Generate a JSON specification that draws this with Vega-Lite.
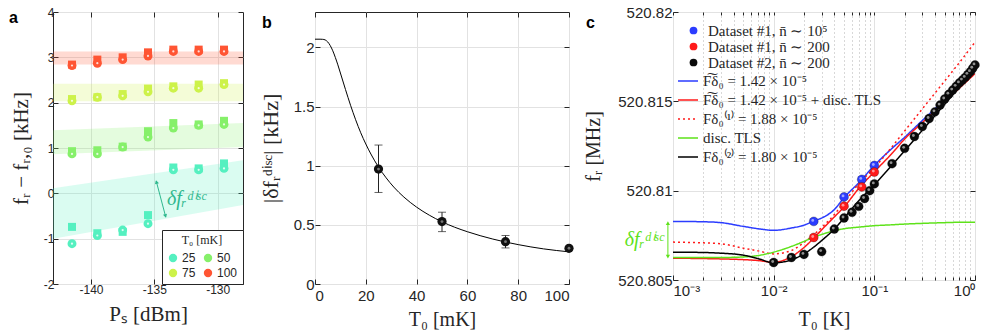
{
  "$schema": "https://vega.github.io/schema/vega-lite/v6.json",
  "autosize": {"type": "none"},
  "padding": {"left": 53, "top": 12, "right": 944, "bottom": 324},
  "bounds": "flush",
  "spacing": 0,
  "background": "white",
  "resolve": {
    "scale": {"color": "independent", "fill": "independent", "stroke": "independent", "strokeDash": "independent", "shape": "independent"},
    "legend": {"color": "independent", "fill": "independent", "stroke": "independent", "strokeDash": "independent", "shape": "independent"}
  },
  "config": {
    "view": {"stroke": "#262626", "strokeWidth": 1},
    "axis": {"domain": false, "tickColor": "#262626", "tickSize": -5, "labelFont": "Liberation Sans", "labelColor": "#262626", "titleFont": "Liberation Serif", "titleFontWeight": "normal", "titleColor": "#262626", "gridColor": "#e2e2e2", "labelFontSize": 15, "titleFontSize": 20, "labelPadding": 4}
  },
  "datasets": {
    "bands": [
      {"P": -143, "T": "100", "lo": 2.84, "hi": 3.13}, {"P": -128, "T": "100", "lo": 2.84, "hi": 3.13},
      {"P": -143, "T": "75", "lo": 2.03, "hi": 2.42}, {"P": -128, "T": "75", "lo": 2.03, "hi": 2.42},
      {"P": -143, "T": "50", "lo": 0.86, "hi": 1.39}, {"P": -128, "T": "50", "lo": 1.02, "hi": 1.55},
      {"P": -143, "T": "25", "lo": -1.0, "hi": 0.11}, {"P": -128, "T": "25", "lo": -0.26, "hi": 0.73}
    ],
    "pa": [
      {"P": -141.5, "T": "25", "kind": "square", "y": -0.74}, {"P": -139.5, "T": "25", "kind": "square", "y": -0.88}, {"P": -137.5, "T": "25", "kind": "square", "y": -0.85}, {"P": -135.5, "T": "25", "kind": "square", "y": -0.48}, {"P": -133.5, "T": "25", "kind": "square", "y": 0.57}, {"P": -131.5, "T": "25", "kind": "square", "y": 0.55}, {"P": -129.5, "T": "25", "kind": "square", "y": 0.66},
      {"P": -141.5, "T": "50", "kind": "square", "y": 0.93}, {"P": -139.5, "T": "50", "kind": "square", "y": 0.95}, {"P": -137.5, "T": "50", "kind": "square", "y": 1.03}, {"P": -135.5, "T": "50", "kind": "square", "y": 1.37}, {"P": -133.5, "T": "50", "kind": "square", "y": 1.55}, {"P": -131.5, "T": "50", "kind": "square", "y": 1.52}, {"P": -129.5, "T": "50", "kind": "square", "y": 1.6},
      {"P": -141.5, "T": "75", "kind": "square", "y": 2.08}, {"P": -139.5, "T": "75", "kind": "square", "y": 2.12}, {"P": -137.5, "T": "75", "kind": "square", "y": 2.19}, {"P": -135.5, "T": "75", "kind": "square", "y": 2.31}, {"P": -133.5, "T": "75", "kind": "square", "y": 2.36}, {"P": -131.5, "T": "75", "kind": "square", "y": 2.4}, {"P": -129.5, "T": "75", "kind": "square", "y": 2.43},
      {"P": -141.5, "T": "100", "kind": "square", "y": 2.84}, {"P": -139.5, "T": "100", "kind": "square", "y": 2.95}, {"P": -137.5, "T": "100", "kind": "square", "y": 3.0}, {"P": -135.5, "T": "100", "kind": "square", "y": 3.11}, {"P": -133.5, "T": "100", "kind": "square", "y": 3.17}, {"P": -131.5, "T": "100", "kind": "square", "y": 3.17}, {"P": -129.5, "T": "100", "kind": "square", "y": 3.17},
      {"P": -141.5, "T": "25", "kind": "circle", "y": -1.11}, {"P": -139.5, "T": "25", "kind": "circle", "y": -0.93}, {"P": -137.5, "T": "25", "kind": "circle", "y": -0.81}, {"P": -135.5, "T": "25", "kind": "circle", "y": -0.67}, {"P": -133.5, "T": "25", "kind": "circle", "y": 0.52}, {"P": -131.5, "T": "25", "kind": "circle", "y": 0.52}, {"P": -129.5, "T": "25", "kind": "circle", "y": 0.55},
      {"P": -141.5, "T": "50", "kind": "circle", "y": 0.87}, {"P": -139.5, "T": "50", "kind": "circle", "y": 0.87}, {"P": -137.5, "T": "50", "kind": "circle", "y": 1.02}, {"P": -135.5, "T": "50", "kind": "circle", "y": 1.24}, {"P": -133.5, "T": "50", "kind": "circle", "y": 1.44}, {"P": -131.5, "T": "50", "kind": "circle", "y": 1.5}, {"P": -129.5, "T": "50", "kind": "circle", "y": 1.52},
      {"P": -141.5, "T": "75", "kind": "circle", "y": 2.04}, {"P": -139.5, "T": "75", "kind": "circle", "y": 2.12}, {"P": -137.5, "T": "75", "kind": "circle", "y": 2.15}, {"P": -135.5, "T": "75", "kind": "circle", "y": 2.24}, {"P": -133.5, "T": "75", "kind": "circle", "y": 2.32}, {"P": -131.5, "T": "75", "kind": "circle", "y": 2.32}, {"P": -129.5, "T": "75", "kind": "circle", "y": 2.4},
      {"P": -141.5, "T": "100", "kind": "circle", "y": 2.82}, {"P": -139.5, "T": "100", "kind": "circle", "y": 2.87}, {"P": -137.5, "T": "100", "kind": "circle", "y": 2.95}, {"P": -135.5, "T": "100", "kind": "circle", "y": 3.03}, {"P": -133.5, "T": "100", "kind": "circle", "y": 3.13}, {"P": -131.5, "T": "100", "kind": "circle", "y": 3.13}, {"P": -129.5, "T": "100", "kind": "circle", "y": 3.13}
    ],
    "bcurve": [
      {"T": 0, "v": 2.07}, {"T": 2, "v": 2.07}, {"T": 3, "v": 2.069}, {"T": 4, "v": 2.064}, {"T": 5, "v": 2.047}, {"T": 6, "v": 2.016}, {"T": 7, "v": 1.972}, {"T": 8, "v": 1.916}, {"T": 9, "v": 1.853}, {"T": 10, "v": 1.784}, {"T": 12, "v": 1.645}, {"T": 14, "v": 1.511}, {"T": 16, "v": 1.389}, {"T": 18, "v": 1.279}, {"T": 20, "v": 1.184}, {"T": 22, "v": 1.099}, {"T": 25, "v": 0.989}, {"T": 28, "v": 0.898}, {"T": 31, "v": 0.82}, {"T": 35, "v": 0.735}, {"T": 40, "v": 0.65}, {"T": 45, "v": 0.582}, {"T": 50, "v": 0.526}, {"T": 55, "v": 0.48}, {"T": 60, "v": 0.442}, {"T": 70, "v": 0.38}, {"T": 80, "v": 0.333}, {"T": 90, "v": 0.297}, {"T": 100, "v": 0.272}
    ],
    "bpts": [
      {"T": 25, "v": 0.972, "lo": 0.774, "hi": 1.175},
      {"T": 50, "v": 0.528, "lo": 0.443, "hi": 0.607},
      {"T": 75, "v": 0.358, "lo": 0.305, "hi": 0.41},
      {"T": 100, "v": 0.302, "lo": 0.29, "hi": 0.314}
    ],
    "ccurves": [
      {"T": 0.001, "c": "A", "f": 520.80828}, {"T": 0.002, "c": "A", "f": 520.80826}, {"T": 0.003, "c": "A", "f": 520.80821}, {"T": 0.005, "c": "A", "f": 520.808}, {"T": 0.007, "c": "A", "f": 520.80787}, {"T": 0.01, "c": "A", "f": 520.80778}, {"T": 0.015, "c": "A", "f": 520.80791}, {"T": 0.02, "c": "A", "f": 520.80807}, {"T": 0.025, "c": "A", "f": 520.8083}, {"T": 0.03, "c": "A", "f": 520.80847}, {"T": 0.04, "c": "A", "f": 520.80894}, {"T": 0.05, "c": "A", "f": 520.80961}, {"T": 0.07, "c": "A", "f": 520.81044}, {"T": 0.1, "c": "A", "f": 520.81141}, {"T": 0.15, "c": "A", "f": 520.81237}, {"T": 0.2, "c": "A", "f": 520.81299}, {"T": 0.3, "c": "A", "f": 520.81393}, {"T": 0.5, "c": "A", "f": 520.81509}, {"T": 0.7, "c": "A", "f": 520.81586}, {"T": 1.0, "c": "A", "f": 520.8167},
      {"T": 0.001, "c": "B", "f": 520.80622}, {"T": 0.002, "c": "B", "f": 520.8062}, {"T": 0.003, "c": "B", "f": 520.80618}, {"T": 0.005, "c": "B", "f": 520.80614}, {"T": 0.007, "c": "B", "f": 520.80609}, {"T": 0.01, "c": "B", "f": 520.80599}, {"T": 0.015, "c": "B", "f": 520.80631}, {"T": 0.02, "c": "B", "f": 520.80682}, {"T": 0.025, "c": "B", "f": 520.80734}, {"T": 0.03, "c": "B", "f": 520.80781}, {"T": 0.04, "c": "B", "f": 520.80853}, {"T": 0.05, "c": "B", "f": 520.80909}, {"T": 0.07, "c": "B", "f": 520.81012}, {"T": 0.1, "c": "B", "f": 520.81106}, {"T": 0.15, "c": "B", "f": 520.81209}, {"T": 0.2, "c": "B", "f": 520.81289}, {"T": 0.3, "c": "B", "f": 520.81381}, {"T": 0.5, "c": "B", "f": 520.81498}, {"T": 0.7, "c": "B", "f": 520.81574}, {"T": 1.0, "c": "B", "f": 520.81655},
      {"T": 0.001, "c": "C", "f": 520.80712}, {"T": 0.002, "c": "C", "f": 520.80708}, {"T": 0.003, "c": "C", "f": 520.80703}, {"T": 0.005, "c": "C", "f": 520.80678}, {"T": 0.007, "c": "C", "f": 520.80663}, {"T": 0.01, "c": "C", "f": 520.80646}, {"T": 0.015, "c": "C", "f": 520.80665}, {"T": 0.02, "c": "C", "f": 520.8071}, {"T": 0.025, "c": "C", "f": 520.80753}, {"T": 0.03, "c": "C", "f": 520.80794}, {"T": 0.04, "c": "C", "f": 520.80866}, {"T": 0.05, "c": "C", "f": 520.80935}, {"T": 0.07, "c": "C", "f": 520.81038}, {"T": 0.1, "c": "C", "f": 520.81128}, {"T": 0.15, "c": "C", "f": 520.81246}, {"T": 0.2, "c": "C", "f": 520.81334}, {"T": 0.3, "c": "C", "f": 520.81458}, {"T": 0.5, "c": "C", "f": 520.81614}, {"T": 0.7, "c": "C", "f": 520.81717}, {"T": 1.0, "c": "C", "f": 520.81831},
      {"T": 0.001, "c": "D", "f": 520.80626}, {"T": 0.002, "c": "D", "f": 520.80626}, {"T": 0.003, "c": "D", "f": 520.80626}, {"T": 0.005, "c": "D", "f": 520.80629}, {"T": 0.007, "c": "D", "f": 520.80637}, {"T": 0.01, "c": "D", "f": 520.80656}, {"T": 0.015, "c": "D", "f": 520.80688}, {"T": 0.02, "c": "D", "f": 520.80716}, {"T": 0.025, "c": "D", "f": 520.8074}, {"T": 0.03, "c": "D", "f": 520.80755}, {"T": 0.04, "c": "D", "f": 520.80776}, {"T": 0.05, "c": "D", "f": 520.80787}, {"T": 0.07, "c": "D", "f": 520.80796}, {"T": 0.1, "c": "D", "f": 520.80804}, {"T": 0.15, "c": "D", "f": 520.80809}, {"T": 0.2, "c": "D", "f": 520.80813}, {"T": 0.3, "c": "D", "f": 520.80817}, {"T": 0.5, "c": "D", "f": 520.80821}, {"T": 0.7, "c": "D", "f": 520.80823}, {"T": 1.0, "c": "D", "f": 520.80823},
      {"T": 0.001, "c": "E", "f": 520.80656}, {"T": 0.002, "c": "E", "f": 520.80654}, {"T": 0.003, "c": "E", "f": 520.8065}, {"T": 0.005, "c": "E", "f": 520.80639}, {"T": 0.007, "c": "E", "f": 520.8062}, {"T": 0.01, "c": "E", "f": 520.80596}, {"T": 0.015, "c": "E", "f": 520.80613}, {"T": 0.02, "c": "E", "f": 520.80646}, {"T": 0.025, "c": "E", "f": 520.80684}, {"T": 0.03, "c": "E", "f": 520.80721}, {"T": 0.04, "c": "E", "f": 520.80785}, {"T": 0.05, "c": "E", "f": 520.80847}, {"T": 0.07, "c": "E", "f": 520.80943}, {"T": 0.1, "c": "E", "f": 520.81033}, {"T": 0.15, "c": "E", "f": 520.81143}, {"T": 0.2, "c": "E", "f": 520.81224}, {"T": 0.3, "c": "E", "f": 520.81338}, {"T": 0.5, "c": "E", "f": 520.81484}, {"T": 0.7, "c": "E", "f": 520.8158}, {"T": 1.0, "c": "E", "f": 520.81681}
    ],
    "cpts": [
      {"T": 0.025, "d": "Dataset #1, n̄ ∼ 10⁵", "f": 520.80828}, {"T": 0.05, "d": "Dataset #1, n̄ ∼ 10⁵", "f": 520.80965}, {"T": 0.075, "d": "Dataset #1, n̄ ∼ 10⁵", "f": 520.81063}, {"T": 0.1, "d": "Dataset #1, n̄ ∼ 10⁵", "f": 520.81141},
      {"T": 0.025, "d": "Dataset #1, n̄ ∼ 200", "f": 520.80738}, {"T": 0.05, "d": "Dataset #1, n̄ ∼ 200", "f": 520.80913}, {"T": 0.075, "d": "Dataset #1, n̄ ∼ 200", "f": 520.81021}, {"T": 0.1, "d": "Dataset #1, n̄ ∼ 200", "f": 520.81104},
      {"T": 0.01, "d": "Dataset #2, n̄ ∼ 200", "f": 520.80598}, {"T": 0.015, "d": "Dataset #2, n̄ ∼ 200", "f": 520.80626}, {"T": 0.02, "d": "Dataset #2, n̄ ∼ 200", "f": 520.80643}, {"T": 0.03, "d": "Dataset #2, n̄ ∼ 200", "f": 520.80659}, {"T": 0.04, "d": "Dataset #2, n̄ ∼ 200", "f": 520.80785}, {"T": 0.05, "d": "Dataset #2, n̄ ∼ 200", "f": 520.80847}, {"T": 0.06, "d": "Dataset #2, n̄ ∼ 200", "f": 520.80879}, {"T": 0.07, "d": "Dataset #2, n̄ ∼ 200", "f": 520.80912}, {"T": 0.08, "d": "Dataset #2, n̄ ∼ 200", "f": 520.80956}, {"T": 0.09, "d": "Dataset #2, n̄ ∼ 200", "f": 520.81}, {"T": 0.1, "d": "Dataset #2, n̄ ∼ 200", "f": 520.81038}, {"T": 0.15, "d": "Dataset #2, n̄ ∼ 200", "f": 520.81151}, {"T": 0.2, "d": "Dataset #2, n̄ ∼ 200", "f": 520.81237}, {"T": 0.25, "d": "Dataset #2, n̄ ∼ 200", "f": 520.81303}, {"T": 0.3, "d": "Dataset #2, n̄ ∼ 200", "f": 520.81359}, {"T": 0.35, "d": "Dataset #2, n̄ ∼ 200", "f": 520.81404}, {"T": 0.4, "d": "Dataset #2, n̄ ∼ 200", "f": 520.81441}, {"T": 0.45, "d": "Dataset #2, n̄ ∼ 200", "f": 520.81479}, {"T": 0.5, "d": "Dataset #2, n̄ ∼ 200", "f": 520.81513}, {"T": 0.55, "d": "Dataset #2, n̄ ∼ 200", "f": 520.8154}, {"T": 0.6, "d": "Dataset #2, n̄ ∼ 200", "f": 520.81563}, {"T": 0.65, "d": "Dataset #2, n̄ ∼ 200", "f": 520.81584}, {"T": 0.7, "d": "Dataset #2, n̄ ∼ 200", "f": 520.81603}, {"T": 0.75, "d": "Dataset #2, n̄ ∼ 200", "f": 520.81619}, {"T": 0.8, "d": "Dataset #2, n̄ ∼ 200", "f": 520.81634}, {"T": 0.85, "d": "Dataset #2, n̄ ∼ 200", "f": 520.81651}, {"T": 0.9, "d": "Dataset #2, n̄ ∼ 200", "f": 520.81666}, {"T": 0.95, "d": "Dataset #2, n̄ ∼ 200", "f": 520.81685}, {"T": 1.0, "d": "Dataset #2, n̄ ∼ 200", "f": 520.81704}
    ]
  },
  "hconcat": [
    {
      "width": 190, "height": 272,
      "title": {"text": "a", "anchor": "start", "frame": "group", "dx": -44, "dy": 33, "offset": 0, "baseline": "alphabetic", "fontSize": 16, "font": "Liberation Sans", "fontWeight": "bold", "color": "black"},
      "resolve": {"axis": {"x": "independent", "y": "independent"}},
      "layer": [
        {
          "data": {"name": "bands"},
          "mark": {"type": "area", "opacity": 0.22},
          "encoding": {
            "x": {"field": "P", "type": "quantitative", "scale": {"domain": [-143, -128], "nice": false, "zero": false}, "axis": {"orient": "bottom", "values": [-140, -135, -130], "labelExpr": "datum.value < 0 ? '-' + abs(datum.value) : '' + datum.value", "title": "Pₛ [dBm]", "grid": true, "labelFontSize": 12, "titleFontSize": 21, "labelPadding": 5, "titlePadding": 8}},
            "y": {"field": "lo", "type": "quantitative", "scale": {"domain": [-2, 4], "nice": false, "zero": false}, "axis": {"orient": "left", "values": [-2, -1, 0, 1, 2, 3, 4], "labelExpr": "datum.value < 0 ? '-' + abs(datum.value) : '' + datum.value", "title": "fᵣ − fᵣ,₀ [kHz]", "grid": true, "labelFontSize": 12, "titleFontSize": 21, "labelPadding": 4, "titlePadding": 12}},
            "y2": {"field": "hi"},
            "color": {"field": "T", "type": "nominal", "scale": {"domain": ["25", "75", "50", "100"], "range": ["#55f0c0", "#cdf24a", "#86f06a", "#ff5533"]},
              "legend": {"orient": "bottom-right", "offset": 0, "columns": 2, "title": "T₀ [mK]", "titleFont": "Liberation Serif", "titleFontSize": 12, "titleFontWeight": "normal", "titleAnchor": "middle", "titleColor": "#262626", "labelFont": "Liberation Sans", "labelFontSize": 12, "labelColor": "#262626", "symbolType": "circle", "symbolSize": 70, "symbolOpacity": 1, "symbolStrokeWidth": 0, "strokeColor": "#262626", "fillColor": "white", "padding": 5, "columnPadding": 6, "rowPadding": 3, "labelOffset": 3}}
          }
        },
        {
          "data": {"name": "pa"},
          "transform": [{"filter": "datum.kind == 'square'"}],
          "mark": {"type": "point", "shape": "square", "filled": true, "opacity": 1, "size": 64},
          "encoding": {
            "x": {"field": "P", "type": "quantitative", "axis": {"orient": "top", "values": [-140, -135, -130], "labels": false, "title": null, "grid": false}},
            "y": {"field": "y", "type": "quantitative", "axis": {"orient": "right", "values": [-2, -1, 0, 1, 2, 3, 4], "labels": false, "title": null, "grid": false}},
            "color": {"field": "T", "type": "nominal"}
          }
        },
        {
          "data": {"name": "pa"},
          "transform": [{"filter": "datum.kind == 'circle'"}],
          "mark": {"type": "point", "shape": "circle", "filled": true, "opacity": 1, "size": 80},
          "encoding": {
            "x": {"field": "P", "type": "quantitative", "axis": null},
            "y": {"field": "y", "type": "quantitative", "axis": null},
            "color": {"field": "T", "type": "nominal"}
          }
        },
        {
          "data": {"name": "pa"},
          "transform": [{"filter": "datum.kind == 'circle'"}],
          "mark": {"type": "point", "shape": "circle", "filled": true, "opacity": 0.8, "size": 5, "color": "white"},
          "encoding": {
            "x": {"field": "P", "type": "quantitative", "axis": null},
            "y": {"field": "y", "type": "quantitative", "axis": null}
          }
        },
        {
          "data": {"values": [{"x1": -134.85, "y1": 0.27, "x2": -134.1, "y2": -0.52}]},
          "mark": {"type": "rule", "color": "#2fb88e", "strokeWidth": 1},
          "encoding": {
            "x": {"field": "x1", "type": "quantitative", "axis": null},
            "y": {"field": "y1", "type": "quantitative", "axis": null},
            "x2": {"field": "x2"},
            "y2": {"field": "y2"}
          }
        },
        {
          "data": {"values": [{"x": -134.83, "y": 0.25, "h": "up"}, {"x": -134.12, "y": -0.5, "h": "down"}]},
          "mark": {"type": "point", "filled": true, "opacity": 1, "size": 18, "angle": -15.6, "color": "#2fb88e"},
          "encoding": {
            "x": {"field": "x", "type": "quantitative", "axis": null},
            "y": {"field": "y", "type": "quantitative", "axis": null},
            "shape": {"field": "h", "type": "nominal", "scale": {"domain": ["up", "down"], "range": ["triangle-up", "triangle-down"]}, "legend": null}
          }
        },
        {
          "data": {"values": [{"x": -134.0, "y": -0.12, "t": "δfᵣᵈⁱˢᶜ"}]},
          "mark": {"type": "text", "font": "Liberation Serif", "fontSize": 20, "fontStyle": "italic", "color": "#2fb88e", "align": "left", "baseline": "middle"},
          "encoding": {
            "x": {"field": "x", "type": "quantitative", "axis": null},
            "y": {"field": "y", "type": "quantitative", "axis": null},
            "text": {"field": "t"}
          }
        }
      ]
    },
    {"width": 72, "height": 272, "data": {"values": []}, "mark": "point", "view": {"stroke": null}},
    {
      "width": 254, "height": 272,
      "title": {"text": "b", "anchor": "start", "frame": "group", "dx": -53, "dy": 32, "offset": 0, "baseline": "alphabetic", "fontSize": 16, "font": "Liberation Sans", "fontWeight": "bold", "color": "black"},
      "resolve": {"axis": {"x": "independent", "y": "independent"}},
      "layer": [
        {
          "data": {"name": "bcurve"},
          "mark": {"type": "line", "color": "black", "strokeWidth": 1, "interpolate": "monotone"},
          "encoding": {
            "x": {"field": "T", "type": "quantitative", "scale": {"domain": [0, 100], "nice": false}, "axis": {"orient": "bottom", "values": [0, 20, 40, 60, 80, 100], "title": "T₀ [mK]", "grid": true, "labelPadding": 9, "titlePadding": 6}},
            "y": {"field": "v", "type": "quantitative", "scale": {"domain": [0, 2.3], "nice": false}, "axis": {"orient": "left", "values": [0, 0.5, 1, 1.5, 2], "labelExpr": "'' + datum.value", "title": "|δfᵣᵈⁱˢᶜ| [kHz]", "titleFontSize": 22, "grid": true, "labelPadding": 6, "titlePadding": 11}}
          }
        },
        {
          "data": {"name": "bpts"},
          "mark": {"type": "rule", "color": "#222222", "strokeWidth": 1},
          "encoding": {
            "x": {"field": "T", "type": "quantitative", "axis": {"orient": "top", "values": [0, 20, 40, 60, 80, 100], "labels": false, "title": null, "grid": false}},
            "y": {"field": "lo", "type": "quantitative", "axis": {"orient": "right", "values": [0, 0.5, 1, 1.5, 2], "labels": false, "title": null, "grid": false}},
            "y2": {"field": "hi"}
          }
        },
        {
          "data": {"name": "bpts"},
          "mark": {"type": "tick", "orient": "horizontal", "color": "#222222", "thickness": 1, "size": 8},
          "encoding": {
            "x": {"field": "T", "type": "quantitative", "axis": null},
            "y": {"field": "lo", "type": "quantitative", "axis": null}
          }
        },
        {
          "data": {"name": "bpts"},
          "mark": {"type": "tick", "orient": "horizontal", "color": "#222222", "thickness": 1, "size": 8},
          "encoding": {
            "x": {"field": "T", "type": "quantitative", "axis": null},
            "y": {"field": "hi", "type": "quantitative", "axis": null}
          }
        },
        {
          "data": {"name": "bpts"},
          "mark": {"type": "point", "shape": "circle", "filled": true, "opacity": 1, "size": 85, "color": "#111111"},
          "encoding": {
            "x": {"field": "T", "type": "quantitative", "axis": null},
            "y": {"field": "v", "type": "quantitative", "axis": null}
          }
        },
        {
          "data": {"name": "bpts"},
          "mark": {"type": "point", "shape": "circle", "filled": true, "opacity": 0.6, "size": 8, "color": "#bbbbbb"},
          "encoding": {
            "x": {"field": "T", "type": "quantitative", "axis": null},
            "y": {"field": "v", "type": "quantitative", "axis": null}
          }
        }
      ]
    },
    {"width": 104, "height": 272, "data": {"values": []}, "mark": "point", "view": {"stroke": null}},
    {
      "width": 302, "height": 268,
      "title": {"text": "c", "anchor": "start", "frame": "group", "dx": -87, "dy": 39, "offset": 0, "baseline": "alphabetic", "fontSize": 16, "font": "Liberation Sans", "fontWeight": "bold", "color": "black"},
      "resolve": {"axis": {"x": "independent", "y": "independent"}},
      "layer": [
        {
          "data": {"name": "cpts"},
          "mark": {"type": "point", "opacity": 0},
          "encoding": {
            "x": {"field": "T", "type": "quantitative", "scale": {"type": "log", "domain": [0.001, 1], "nice": false}, "axis": {"orient": "bottom", "values": [0.002, 0.003, 0.004, 0.005, 0.006, 0.007, 0.008, 0.009, 0.02, 0.03, 0.04, 0.05, 0.06, 0.07, 0.08, 0.09, 0.2, 0.3, 0.4, 0.5, 0.6, 0.7, 0.8, 0.9], "labels": false, "title": null, "grid": true, "gridDash": [1, 3], "gridColor": "#b0b0b0", "tickSize": -3}},
            "y": {"field": "f", "type": "quantitative", "scale": {"domain": [520.805, 520.82], "nice": false, "zero": false}, "axis": null}
          }
        },
        {
          "data": {"name": "ccurves"},
          "mark": {"type": "line", "strokeWidth": 1.5, "interpolate": "monotone", "clip": true},
          "encoding": {
            "x": {"field": "T", "type": "quantitative", "axis": {"orient": "bottom", "values": [0.001, 0.01, 0.1, 1], "labelExpr": "datum.value >= 1 ? '10⁰' : datum.value >= 0.1 ? '10⁻¹' : datum.value >= 0.01 ? '10⁻²' : '10⁻³'", "title": "T₀ [K]", "grid": true, "labelPadding": 8, "titlePadding": 11}},
            "y": {"field": "f", "type": "quantitative", "axis": {"orient": "left", "values": [520.805, 520.81, 520.815, 520.82], "labelExpr": "'' + datum.value", "title": "fᵣ [MHz]", "grid": true, "labelPadding": 6, "titlePadding": 14}},
            "stroke": {"field": "c", "type": "nominal", "scale": {"domain": ["A", "B", "C", "D", "E"], "range": ["#2b3cff", "#ff1a1a", "#ff1a1a", "#5ee21a", "#000000"]},
              "legend": {"orient": "none", "legendX": 4, "legendY": 58, "title": null, "labelExpr": "datum.label == 'A' ? 'F͠δ₀ = 1.42 × 10⁻⁵' : datum.label == 'B' ? 'F͠δ₀ = 1.42 × 10⁻⁵ + disc. TLS' : datum.label == 'C' ? 'Fδ₀⁽¹⁾ = 1.88 × 10⁻⁵' : datum.label == 'D' ? 'disc. TLS' : 'Fδ₀⁽²⁾ = 1.80 × 10⁻⁵'", "labelFont": "Liberation Serif", "labelFontSize": 15, "labelColor": "#262626", "labelLimit": 300, "symbolType": "stroke", "symbolSize": 400, "symbolStrokeWidth": 1.5, "labelOffset": 4, "padding": 0, "rowPadding": -0.7}},
            "strokeDash": {"field": "c", "type": "nominal", "scale": {"domain": ["A", "B", "C", "D", "E"], "range": [[1, 0], [1, 0], [2, 3], [1, 0], [1, 0]]}}
          }
        },
        {
          "data": {"name": "cpts"},
          "mark": {"type": "point", "shape": "circle", "filled": true, "opacity": 1, "size": 80, "stroke": "#111111", "strokeWidth": 0.6, "strokeOpacity": 0.5},
          "encoding": {
            "x": {"field": "T", "type": "quantitative", "axis": {"orient": "top", "values": [0.001, 0.002, 0.003, 0.004, 0.005, 0.006, 0.007, 0.008, 0.009, 0.01, 0.02, 0.03, 0.04, 0.05, 0.06, 0.07, 0.08, 0.09, 0.1, 0.2, 0.3, 0.4, 0.5, 0.6, 0.7, 0.8, 0.9, 1], "labels": false, "title": null, "grid": false, "tickSize": -3}},
            "y": {"field": "f", "type": "quantitative", "axis": {"orient": "right", "values": [520.805, 520.81, 520.815, 520.82], "labels": false, "title": null, "grid": false}},
            "fill": {"field": "d", "type": "nominal", "scale": {"domain": ["Dataset #1, n̄ ∼ 10⁵", "Dataset #1, n̄ ∼ 200", "Dataset #2, n̄ ∼ 200"], "range": ["#2b3cff", "#ff1a1a", "#0a0a0a"]},
              "legend": {"orient": "none", "legendX": 13, "legendY": 11, "title": null, "labelFont": "Liberation Serif", "labelFontSize": 15, "labelColor": "#262626", "labelLimit": 300, "symbolType": "circle", "symbolSize": 60, "symbolStrokeWidth": 0, "labelOffset": 7, "padding": 0, "rowPadding": -1.5}}
          }
        },
        {
          "data": {"name": "cpts"},
          "mark": {"type": "point", "shape": "circle", "filled": true, "opacity": 0.55, "size": 8, "color": "white", "xOffset": -1, "yOffset": -1},
          "encoding": {
            "x": {"field": "T", "type": "quantitative", "axis": null},
            "y": {"field": "f", "type": "quantitative", "axis": null}
          }
        },
        {
          "data": {"values": [{"T": 0.00089, "a": 520.80632, "b": 520.80817}]},
          "mark": {"type": "rule", "color": "#5ee21a", "strokeWidth": 1, "clip": false},
          "encoding": {
            "x": {"field": "T", "type": "quantitative", "axis": null},
            "y": {"field": "a", "type": "quantitative", "axis": null},
            "y2": {"field": "b"}
          }
        },
        {
          "data": {"values": [{"T": 0.00089, "f": 520.80818, "h": "up"}, {"T": 0.00089, "f": 520.80631, "h": "down"}]},
          "mark": {"type": "point", "filled": true, "opacity": 1, "size": 18, "color": "#5ee21a", "clip": false},
          "encoding": {
            "x": {"field": "T", "type": "quantitative", "axis": null},
            "y": {"field": "f", "type": "quantitative", "axis": null},
            "shape": {"field": "h", "type": "nominal", "scale": {"domain": ["up", "down"], "range": ["triangle-up", "triangle-down"]}, "legend": null}
          }
        },
        {
          "data": {"values": [{"T": 0.0008, "f": 520.80725, "t": "δfᵣᵈⁱˢᶜ"}]},
          "mark": {"type": "text", "font": "Liberation Serif", "fontSize": 20, "fontStyle": "italic", "color": "#5ee21a", "align": "right", "baseline": "middle", "clip": false},
          "encoding": {
            "x": {"field": "T", "type": "quantitative", "axis": null},
            "y": {"field": "f", "type": "quantitative", "axis": null},
            "text": {"field": "t"}
          }
        }
      ]
    }
  ]
}
